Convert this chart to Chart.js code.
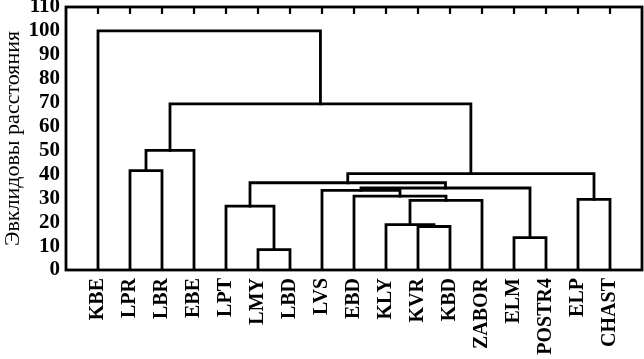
<!DOCTYPE html>
<html><head><meta charset="utf-8">
<script src="https://cdn.jsdelivr.net/npm/chart.js@4/dist/chart.umd.min.js"></script>
<style>html,body{margin:0;padding:0;background:#fff}</style>
</head><body>
<canvas id="c" width="644" height="359"></canvas>
<script>
// Leaves (categories) in dendrogram order
const leaves = ['KBE','LPR','LBR','EBE','LPT','LMY','LBD','LVS','EBD','KLY','KVR','KBD','ZABOR','ELM','POSTR4','ELP','CHAST'];
// Merges: ids < 17 are leaves, id 17+k is the cluster formed by merge k
const mergeLeft   = [5, 10, 9, 13, 4, 19, 15, 8, 7, 25, 21, 27, 1, 29, 30, 0];
const mergeRight  = [6, 11, 18, 14, 17, 12, 16, 22, 24, 20, 26, 23, 2, 3, 28, 31];
const mergeHeight = [8.5, 18.2, 19, 13.5, 26.7, 29.1, 29.5, 30.9, 33.3, 34.3, 36.5, 40.3, 41.6, 50, 69.5, 100];
const yTicks = [0,10,20,30,40,50,60,70,80,90,100,110];
const yTitle = 'Эвклидовы расстояния';

const nLeaf = leaves.length;
const pos = leaves.map((_, i) => i);
const hgt = leaves.map(() => 0);
const datasets = [];
mergeHeight.forEach((H, k) => {
  const l = mergeLeft[k], r = mergeRight[k];
  datasets.push({
    data: [{x: pos[l], y: hgt[l]}, {x: pos[l], y: H}, {x: pos[r], y: H}, {x: pos[r], y: hgt[r]}],
    showLine: true, borderColor: '#000', borderWidth: 2.8, pointRadius: 0,
    fill: false, tension: 0, borderJoinStyle: 'miter', borderCapStyle: 'square'
  });
  pos.push((pos[l] + pos[r]) / 2);
  hgt.push(H);
});

const frame = {
  id: 'frame',
  afterDatasetsDraw(chart) {
    const {ctx, chartArea: a, scales} = chart;
    ctx.save();
    ctx.strokeStyle = '#000';
    ctx.lineWidth = 2.8;
    ctx.strokeRect(a.left, a.top, a.right - a.left, a.bottom - a.top);
    ctx.lineWidth = 2.2;
    leaves.forEach((_, i) => {
      const x = scales.x.getPixelForValue(i);
      ctx.beginPath(); ctx.moveTo(x, a.top); ctx.lineTo(x, a.top + 7); ctx.stroke();
    });
    ctx.restore();
  }
};

new Chart(document.getElementById('c'), {
  type: 'scatter',
  data: { datasets },
  plugins: [frame],
  options: {
    responsive: false, animation: false, devicePixelRatio: 1,
    layout: { padding: { left: 0, top: 7, right: 2, bottom: 0 } },
    plugins: { legend: { display: false }, tooltip: { enabled: false } },
    scales: {
      x: {
        type: 'linear', min: -1, max: nLeaf,
        afterBuildTicks: s => { s.ticks = leaves.map((_, i) => ({ value: i })); },
        afterFit: s => { s.height = 89; s.paddingLeft = 0; s.paddingRight = 0; },
        ticks: {
          autoSkip: false, maxRotation: 90, minRotation: 90, padding: 8,
          color: '#000', font: { family: 'Liberation Serif', size: 20, weight: 'bold' },
          callback: v => leaves[v]
        },
        grid: { display: false, drawTicks: false, tickLength: 0 }, border: { display: false }
      },
      y: {
        min: 0, max: 110,
        afterBuildTicks: s => { s.ticks = yTicks.map(v => ({ value: v })); },
        afterFit: s => { s.width = 66; s.paddingTop = 0; s.paddingBottom = 0; },
        ticks: {
          autoSkip: false, padding: 6, color: '#000',
          font: { family: 'Liberation Serif', size: 21, weight: 'bold' }
        },
        grid: { display: false, drawTicks: false, tickLength: 0 }, border: { display: false },
        title: {
          display: true, text: yTitle, color: '#000', padding: 0,
          font: { family: 'Liberation Serif', size: 22 }
        }
      }
    }
  }
});
</script>
</body></html>
